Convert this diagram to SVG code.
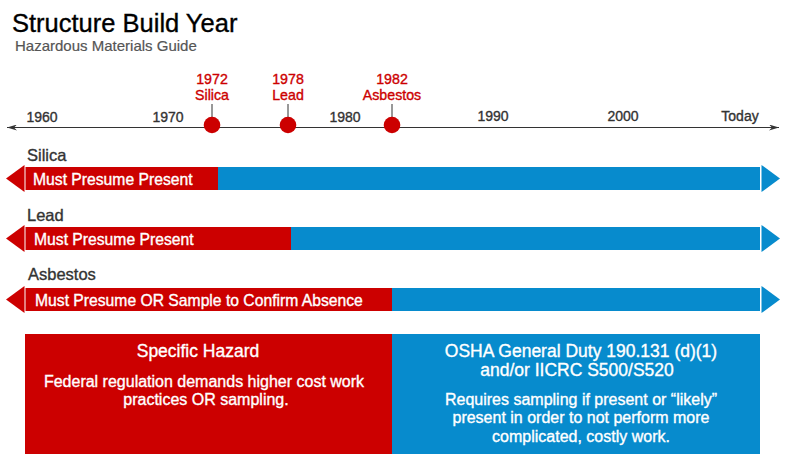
<svg xmlns="http://www.w3.org/2000/svg" width="787" height="463" viewBox="0 0 787 463">
<defs>
<style>
text{font-family:"Liberation Sans",Arial,sans-serif;stroke-width:0.35;paint-order:stroke}
.title{font-size:25.5px;fill:#000;stroke:#000}
.sub{font-size:15px;fill:#555;stroke:#555;stroke-width:0.2}
.yr{font-size:14px;fill:#333;stroke:#333;text-anchor:middle}
.evt{font-size:14.2px;fill:#cc0000;stroke:#cc0000;text-anchor:middle}
.lbl{font-size:16.5px;fill:#333;stroke:#333}
.bt{font-size:15.7px;fill:#fff;stroke:#fff}
.hd{font-size:17.5px;fill:#fff;stroke:#fff;text-anchor:middle}
.bd{font-size:16px;fill:#fff;stroke:#fff;text-anchor:middle}
.red{fill:#cc0000}
.blue{fill:#078bcd}
.axis{stroke:#333;stroke-width:1.2;fill:none}
.stem{stroke:#333;stroke-width:1;fill:none}
</style>
<marker id="ah" viewBox="0 0 10 6" refX="10" refY="3" markerWidth="10" markerHeight="6" markerUnits="userSpaceOnUse" orient="auto-start-reverse">
<path d="M0,0 L10,3 L0,6 L3,3 Z" fill="#333"/>
</marker>
</defs>
<rect width="787" height="463" fill="#fff"/>
<g id="title">
<text class="title" x="12" y="32">Structure Build Year</text>
<text class="sub" x="15" y="51">Hazardous Materials Guide</text>
</g>
<g id="connectors">
<line class="axis" x1="7" y1="127.5" x2="779" y2="127.5" marker-start="url(#ah)" marker-end="url(#ah)"/>
<line class="stem" x1="212" y1="104" x2="212" y2="125"/>
<line class="stem" x1="288" y1="104" x2="288" y2="125"/>
<line class="stem" x1="392" y1="104" x2="392" y2="125"/>
</g>
<g id="years">
<text class="yr" x="42" y="122">1960</text>
<text class="yr" x="168" y="122">1970</text>
<text class="yr" x="345" y="122">1980</text>
<text class="yr" x="493" y="121">1990</text>
<text class="yr" x="623" y="121">2000</text>
<text class="yr" x="740" y="121">Today</text>
</g>
<g id="event-1972">
<circle class="red" cx="212" cy="125" r="8.3"/>
<text class="evt" x="212" y="83.5">1972<tspan x="212" dy="16">Silica</tspan></text>
</g>
<g id="event-1978">
<circle class="red" cx="288" cy="125" r="8.3"/>
<text class="evt" x="288" y="83.5">1978<tspan x="288" dy="16">Lead</tspan></text>
</g>
<g id="event-1982">
<circle class="red" cx="392" cy="125" r="8.3"/>
<text class="evt" x="392" y="83.5">1982<tspan x="392" dy="16">Asbestos</tspan></text>
</g>
<g id="bar-silica">
<text class="lbl" x="27" y="161">Silica</text>
<polygon class="red" points="6,178.5 24.5,165 24.5,192"/>
<rect class="red" x="25.5" y="167" width="193" height="23"/>
<rect class="blue" x="218" y="167" width="542" height="23"/>
<polygon class="blue" points="761.5,165 780,178.5 761.5,192"/>
<text class="bt" x="33" y="184.5">Must Presume Present</text>
</g>
<g id="bar-lead">
<text class="lbl" x="27" y="221">Lead</text>
<polygon class="red" points="6,238.5 24.5,225 24.5,252"/>
<rect class="red" x="25.5" y="227" width="266" height="23"/>
<rect class="blue" x="291" y="227" width="469" height="23"/>
<polygon class="blue" points="761.5,225 780,238.5 761.5,252"/>
<text class="bt" x="34" y="244.5">Must Presume Present</text>
</g>
<g id="bar-asbestos">
<text class="lbl" x="28" y="280">Asbestos</text>
<polygon class="red" points="6,299.5 24.5,286 24.5,313"/>
<rect class="red" x="25.5" y="288" width="367" height="23"/>
<rect class="blue" x="392" y="288" width="368" height="23"/>
<polygon class="blue" points="761.5,286 780,299.5 761.5,313"/>
<text class="bt" x="35" y="305.5">Must Presume OR Sample to Confirm Absence</text>
</g>
<g id="box-specific">
<rect class="red" x="25" y="334" width="367" height="120"/>
<text class="hd" x="198" y="357">Specific Hazard</text>
<text class="bd" x="204" y="387">Federal regulation demands higher cost work<tspan x="206" dy="18">practices OR sampling.</tspan></text>
</g>
<g id="box-osha">
<rect class="blue" x="392" y="334" width="368" height="120"/>
<text class="hd" x="581" y="357">OSHA General Duty 190.131 (d)(1)<tspan x="577" dy="19">and/or IICRC S500/S520</tspan></text>
<text class="bd" x="581" y="405">Requires sampling if present or “likely”<tspan x="581" dy="18">present in order to not perform more</tspan><tspan x="581" dy="19">complicated, costly work.</tspan></text>
</g>
</svg>
